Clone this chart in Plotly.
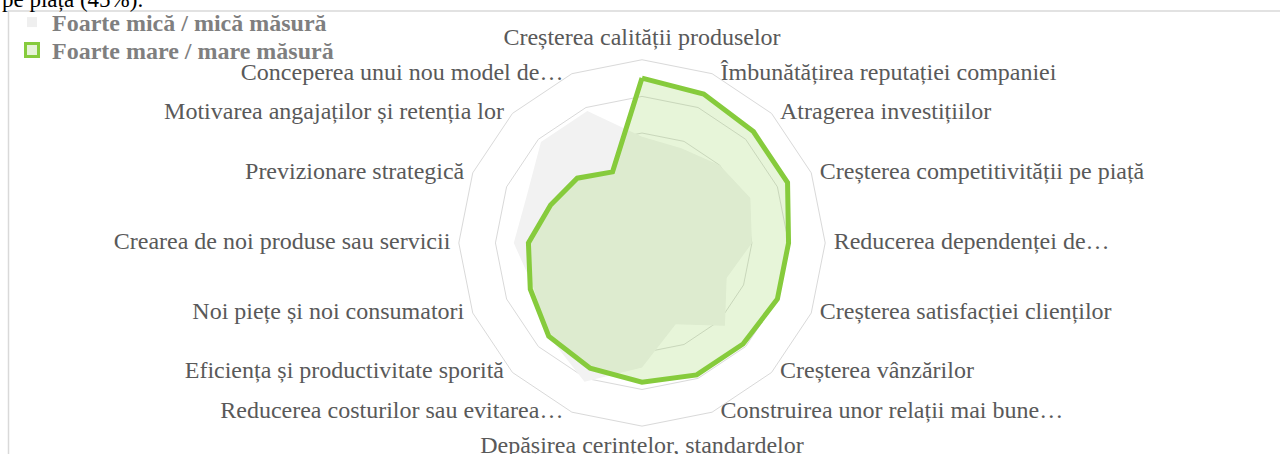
import plotly.graph_objects as go

# categories clockwise from the top
categories = [
    "Creșterea calității produselor",
    "Îmbunătățirea reputației companiei",
    "Atragerea investițiilor",
    "Creșterea competitivității pe piață",
    "Reducerea dependenței de…",
    "Creșterea satisfacției clienților",
    "Creșterea vânzărilor",
    "Construirea unor relații mai bune…",
    "Depășirea cerințelor, standardelor",
    "Reducerea costurilor sau evitarea…",
    "Eficiența și productivitate sporită",
    "Noi piețe și noi consumatori",
    "Crearea de noi produse sau servicii",
    "Previzionare strategică",
    "Motivarea angajaților și retenția lor",
    "Conceperea unui nou model de…",
]

# % of respondents
mica = [29, 28, 30, 32, 30, 25, 32, 24, 34, 41, 36, 32, 35, 34, 39, 39]
mare = [45, 44, 43, 43, 40, 40, 39, 39, 38, 37, 36, 33, 31, 27, 25, 21]

names = ["Foarte mică / mică măsură", "Foarte mare / mare măsură"]

W, H = 1280, 454
cx, cy, R = 642, 242, 184
RMAX = 50

theta = categories + categories[:1]

# category labels sit beside the outer vertex, like Excel does it
n = len(categories)
label_pos = (["top center"] + ["middle right"] * (n // 2 - 1)
             + ["bottom center"] + ["middle left"] * (n // 2 - 1))

fig = go.Figure()

# grey series, opaque fill, no border
fig.add_trace(go.Scatterpolar(
    r=mica + mica[:1], theta=theta, mode="none", fill="toself",
    fillcolor="#f2f2f2", name=names[0], showlegend=False,
))

# green series, translucent fill with thick green border
fig.add_trace(go.Scatterpolar(
    r=mare + mare[:1], theta=theta, mode="lines", fill="toself",
    fillcolor="rgba(146,208,80,0.22)",
    line=dict(color="#86cb3c", width=5), name=names[1], showlegend=False,
))

# category labels at the outer ring; an invisible marker pads the text off it
fig.add_trace(go.Scatterpolar(
    r=[RMAX] * n, theta=categories, mode="markers+text", text=categories,
    textposition=label_pos, cliponaxis=False, showlegend=False,
    hoverinfo="skip",
    marker=dict(size=12, color="rgba(0,0,0,0)"),
    textfont=dict(family="Liberation Serif", size=24, color="#595959"),
))

# legend entries drawn as small squares (one legend box each, to keep rows tight)
fig.add_trace(go.Scatterpolar(
    r=[None], theta=[None], mode="markers", name=names[0], legend="legend",
    marker=dict(symbol="square", size=10, color="#efefef"),
))
fig.add_trace(go.Scatterpolar(
    r=[None], theta=[None], mode="markers", name=names[1], legend="legend2",
    marker=dict(symbol="square", size=13, color="#e6f3d8",
                line=dict(color="#86cb3c", width=3)),
))

legend_font = dict(family="Liberation Serif", size=24, color="#7f7f7f",
                   weight="bold")

fig.update_layout(
    width=W, height=H,
    margin=dict(l=0, r=0, t=0, b=0),
    paper_bgcolor="white",
    font=dict(family="Liberation Serif", color="#595959", size=24),
    polar=dict(
        domain=dict(x=[(cx - R) / W, (cx + R) / W],
                    y=[(H - cy - R) / H, (H - cy + R) / H]),
        bgcolor="rgba(0,0,0,0)",
        gridshape="linear",
        radialaxis=dict(range=[0, RMAX], dtick=10, showticklabels=False,
                        ticks="", showline=False, gridcolor="#d9d9d9",
                        gridwidth=1),
        angularaxis=dict(direction="clockwise", rotation=90,
                         showgrid=False, showline=True, linecolor="#d9d9d9",
                         linewidth=1, ticks="", showticklabels=False),
    ),
    legend=dict(x=12 / W, y=1 + 2 / H, xanchor="left", yanchor="top",
                bgcolor="rgba(0,0,0,0)", font=legend_font),
    legend2=dict(x=12 / W, y=1 - 26 / H, xanchor="left", yanchor="top",
                 bgcolor="rgba(0,0,0,0)", font=legend_font),
    shapes=[dict(type="rect", xref="paper", yref="paper",
                 x0=8.5 / W, x1=1.02, y0=-0.05, y1=1 - 9 / H,
                 line=dict(color="#d9d9d9", width=1.5), layer="below")],
    annotations=[dict(text="pe piață (45%).", xref="paper", yref="paper",
                      x=0, y=1 + 3 / H, xanchor="left", yanchor="middle",
                      showarrow=False,
                      font=dict(family="Liberation Serif", size=23,
                                color="#000000"))],
)

# the page body has an 8px default margin; drop it so the figure sits at 0,0
fig.write_html("out.html", config={"displayModeBar": False},
               post_script="document.body.style.margin='0';")
